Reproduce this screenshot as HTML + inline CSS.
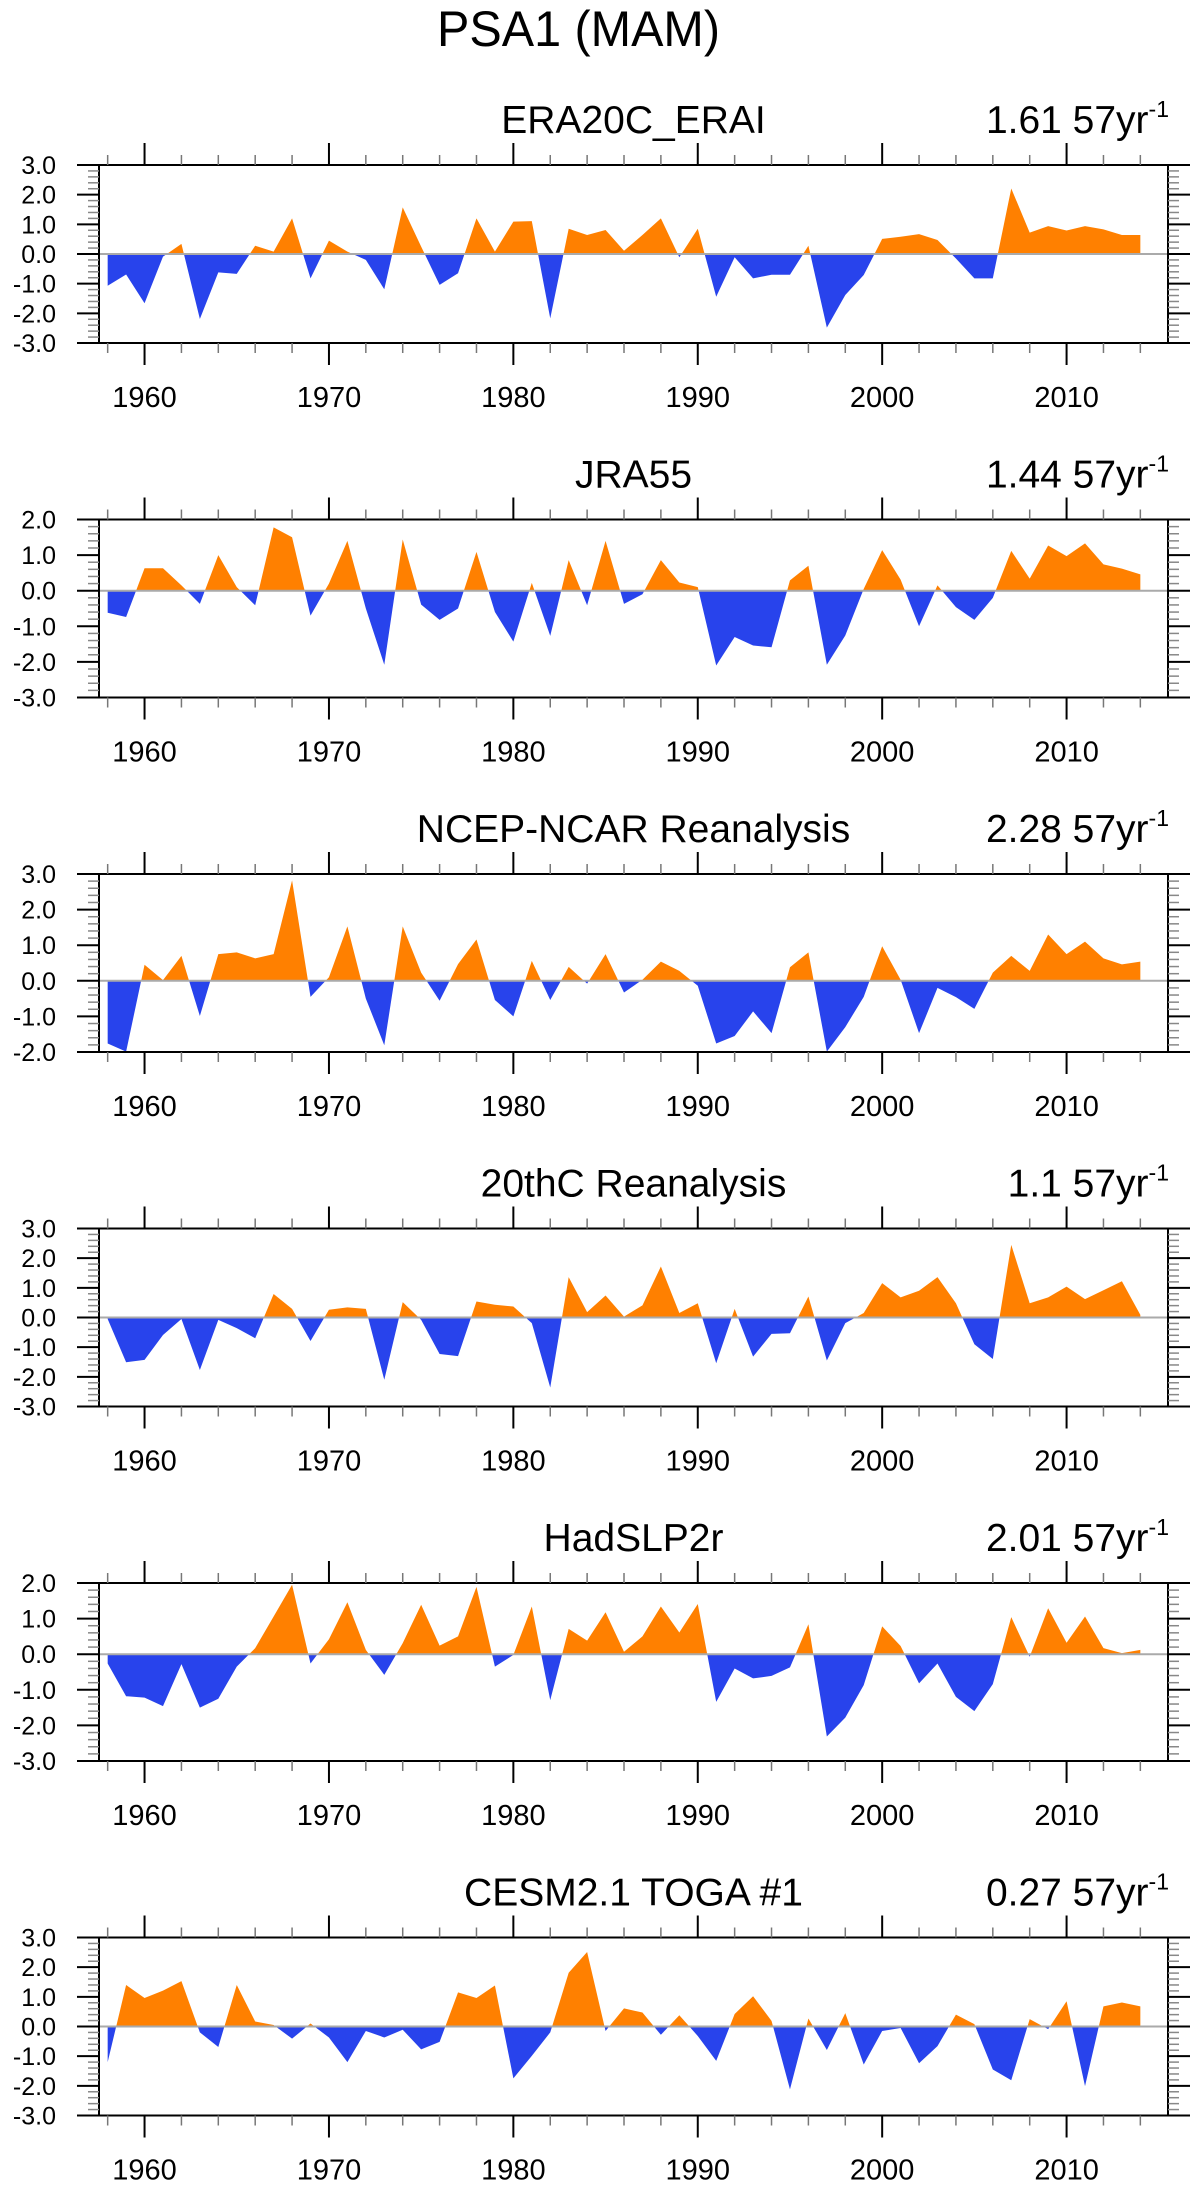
<!DOCTYPE html>
<html><head><meta charset="utf-8"><style>
html,body{margin:0;padding:0;background:#fff;}
svg{display:block;font-family:"Liberation Sans",Arial,sans-serif;}
</style></head><body>
<svg id="chart" width="1198" height="2186" viewBox="0 0 1198 2186" xmlns="http://www.w3.org/2000/svg">
<text x="578.5" y="46" font-size="50" text-anchor="middle" textLength="283" lengthAdjust="spacingAndGlyphs">PSA1 (MAM)</text>
</svg>
<script>
const startYear = 1958;
const panelTitles = ["ERA20C_ERAI","JRA55","NCEP-NCAR Reanalysis","20thC Reanalysis","HadSLP2r","CESM2.1 TOGA #1"];
const trendLabels = ["1.61 57yr","1.44 57yr","2.28 57yr","1.1 57yr","2.01 57yr","0.27 57yr"];
const yMaxes = [3,2,3,3,2,3];
const yMins = [-3,-3,-2,-3,-3,-3];
const yearTicks = [1960,1970,1980,1990,2000,2010];
const era20c = [-1.07,-0.69,-1.66,-0.09,0.34,-2.19,-0.62,-0.67,0.28,0.08,1.2,-0.82,0.45,0.08,-0.2,-1.19,1.57,0.25,-1.04,-0.65,1.2,0.08,1.09,1.11,-2.17,0.85,0.64,0.81,0.11,0.64,1.2,-0.11,0.85,-1.44,-0.11,-0.82,-0.7,-0.7,0.28,-2.48,-1.38,-0.71,0.51,0.58,0.67,0.47,-0.15,-0.82,-0.82,2.21,0.72,0.94,0.79,0.94,0.83,0.64,0.64];
const jra55 = [-0.62,-0.74,0.63,0.63,0.15,-0.37,1.0,0.1,-0.41,1.78,1.5,-0.7,0.2,1.4,-0.5,-2.08,1.44,-0.39,-0.82,-0.5,1.09,-0.6,-1.43,0.22,-1.27,0.86,-0.41,1.4,-0.37,-0.1,0.86,0.23,0.1,-2.1,-1.3,-1.54,-1.59,0.29,0.7,-2.08,-1.26,0.05,1.14,0.31,-1.0,0.15,-0.46,-0.82,-0.2,1.12,0.34,1.27,0.97,1.33,0.74,0.62,0.46];
const ncep = [-1.76,-1.99,0.45,0.02,0.7,-0.99,0.75,0.8,0.63,0.75,2.82,-0.45,0.1,1.53,-0.5,-1.81,1.53,0.23,-0.56,0.47,1.16,-0.54,-1.0,0.56,-0.54,0.39,-0.08,0.75,-0.33,0.03,0.54,0.28,-0.14,-1.76,-1.55,-0.86,-1.47,0.38,0.8,-1.99,-1.3,-0.45,0.97,0.03,-1.47,-0.2,-0.46,-0.79,0.23,0.7,0.28,1.3,0.75,1.1,0.63,0.46,0.54];
const c20r = [-0.05,-1.51,-1.43,-0.59,-0.05,-1.77,-0.08,-0.36,-0.7,0.79,0.29,-0.79,0.26,0.34,0.29,-2.1,0.52,-0.08,-1.23,-1.3,0.54,0.43,0.37,-0.19,-2.36,1.36,0.18,0.74,0.03,0.41,1.72,0.15,0.48,-1.54,0.29,-1.32,-0.55,-0.53,0.71,-1.45,-0.19,0.15,1.16,0.68,0.9,1.36,0.48,-0.9,-1.4,2.45,0.48,0.68,1.04,0.62,0.92,1.22,0.09];
const hadslp = [-0.26,-1.18,-1.22,-1.46,-0.28,-1.5,-1.25,-0.35,0.17,1.06,1.95,-0.26,0.42,1.46,0.12,-0.58,0.31,1.39,0.24,0.5,1.89,-0.35,-0.02,1.34,-1.29,0.71,0.38,1.18,0.07,0.5,1.34,0.61,1.41,-1.34,-0.4,-0.68,-0.61,-0.37,0.84,-2.31,-1.78,-0.87,0.78,0.23,-0.82,-0.26,-1.2,-1.6,-0.84,1.04,-0.07,1.29,0.32,1.06,0.17,0.03,0.12];
const cesm = [-1.2,1.4,0.96,1.21,1.53,-0.2,-0.69,1.4,0.17,0.05,-0.41,0.1,-0.37,-1.2,-0.15,-0.37,-0.11,-0.77,-0.52,1.15,0.96,1.38,-1.75,-0.99,-0.2,1.81,2.51,-0.15,0.61,0.47,-0.28,0.38,-0.32,-1.16,0.42,1.02,0.19,-2.12,0.27,-0.79,0.45,-1.28,-0.15,-0.05,-1.24,-0.66,0.4,0.08,-1.45,-1.81,0.25,-0.09,0.85,-2.01,0.68,0.81,0.68];
const allSeries = [era20c,jra55,ncep,c20r,hadslp,cesm];
const seriesNames = ["era20c","jra55","ncep","c20r","hadslp","cesm"];

const NS = "http://www.w3.org/2000/svg";
const svg = document.getElementById("chart");
const PL = 99, PR = 1168, PH = 178, TOP0 = 165, GAP = 354.5;
const X0 = 1957.53, X1 = 2015.5;
function xScale(yr){ return PL + (yr - X0) / (X1 - X0) * (PR - PL); }
function mk(tag, attrs, parent){
  const e = document.createElementNS(NS, tag);
  for (const k in attrs) e.setAttribute(k, attrs[k]);
  (parent || svg).appendChild(e);
  return e;
}

allSeries.forEach((vals, p) => {
  const top = TOP0 + p * GAP, bot = top + PH;
  const ymax = yMaxes[p], ymin = yMins[p];
  const yScale = v => top + (ymax - v) / (ymax - ymin) * PH;
  const y0 = yScale(0);
  const g = mk("g", {});
  
  

  const defs = mk("defs", {}, g);
  const cu = mk("clipPath", {id: "cu" + p}, defs);
  mk("rect", {x: PL, y: top, width: PR - PL, height: y0 - top}, cu);
  const cd = mk("clipPath", {id: "cd" + p}, defs);
  mk("rect", {x: PL, y: y0, width: PR - PL, height: bot - y0}, cd);

  let pts = vals.map((v, i) => xScale(startYear + i).toFixed(2) + "," + yScale(v).toFixed(2));
  pts.push(xScale(startYear + vals.length - 1).toFixed(2) + "," + y0.toFixed(2));
  pts.push(xScale(startYear).toFixed(2) + "," + y0.toFixed(2));
  const ptsStr = pts.join(" ");
  const pos = mk("polygon", {points: ptsStr, fill: "#ff8000", "clip-path": "url(#cu" + p + ")"}, g);
  
  
  const neg = mk("polygon", {points: ptsStr, fill: "#2843ec", "clip-path": "url(#cd" + p + ")"}, g);
  
  

  const zl = mk("line", {x1: PL, x2: PR, y1: y0, y2: y0, stroke: "#aaaaaa", "stroke-width": 2}, g);
  
  

  const frame = mk("rect", {x: PL, y: top, width: PR - PL, height: PH, fill: "none", stroke: "#000", "stroke-width": 2}, g);
  
  

  for (let yr = 1958; yr <= 2014; yr += 2) {
    const x = xScale(yr);
    const major = yr % 10 === 0;
    const len = major ? 22 : 10;
    const col = major ? "#000" : "#777";
    mk("line", {x1: x, x2: x, y1: top - len, y2: top, stroke: col, "stroke-width": major ? 2 : 1.5}, g);
    mk("line", {x1: x, x2: x, y1: bot, y2: bot + len, stroke: col, "stroke-width": major ? 2 : 1.5}, g);
  }
  yearTicks.forEach(yr => {
    const t = mk("text", {x: xScale(yr), y: bot + 64, "font-size": 29, "text-anchor": "middle"}, g);
    t.textContent = String(yr);
    
    
  });
  const nMinor = Math.round((ymax - ymin) / 0.2);
  for (let k = 0; k <= nMinor; k++) {
    const v = ymin + k * 0.2;
    const y = yScale(v);
    const major = k % 5 === 0;
    const len = major ? 22 : 11;
    const col = major ? "#000" : "#888";
    mk("line", {x1: PL - len, x2: PL, y1: y, y2: y, stroke: col, "stroke-width": major ? 2 : 1.5}, g);
    mk("line", {x1: PR, x2: PR + len, y1: y, y2: y, stroke: col, "stroke-width": major ? 2 : 1.5}, g);
    if (major) {
      const t = mk("text", {x: 56, y: y + 9, "font-size": 25, "text-anchor": "end"}, g);
      t.textContent = (Math.round(v * 10) / 10).toFixed(1);
      
      
    }
  }
  const title = mk("text", {x: 633.5, y: top - 32, "font-size": 39, "text-anchor": "middle"}, g);
  title.textContent = panelTitles[p];
  
  
  const tr = mk("text", {x: 1169, y: top - 32, "font-size": 39, "text-anchor": "end"}, g);
  
  
  const t1 = mk("tspan", {}, tr);
  t1.textContent = trendLabels[p];
  const t2 = mk("tspan", {dy: -16, "font-size": 23}, tr);
  t2.textContent = "-1";
});
</script>
</body></html>
